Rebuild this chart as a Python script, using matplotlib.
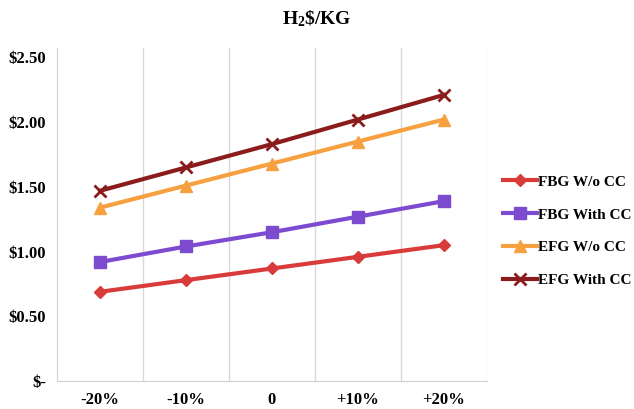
import matplotlib.pyplot as plt

categories = ['-20%', '-10%', '0', '+10%', '+20%']
fbg_wo_cc = [0.69, 0.78, 0.87, 0.96, 1.05]
fbg_with_cc = [0.92, 1.04, 1.15, 1.27, 1.39]
efg_wo_cc = [1.34, 1.51, 1.68, 1.85, 2.02]
efg_with_cc = [1.47, 1.65, 1.83, 2.02, 2.21]
yticks = [0, 0.5, 1.0, 1.5, 2.0, 2.5]
ytick_labels = ['$-', '$0.50', '$1.00', '$1.50', '$2.00', '$2.50']

plt.rcParams['font.family'] = ['Liberation Serif', 'DejaVu Serif']
plt.rcParams['font.weight'] = 'bold'
plt.rcParams['mathtext.fontset'] = 'custom'
plt.rcParams['mathtext.rm'] = 'Liberation Serif:bold'
plt.rcParams['mathtext.default'] = 'rm'

fig = plt.figure(figsize=(6.34, 4.09), dpi=100)
ax = fig.add_axes([0.09, 0.068, 0.678, 0.814])

x = list(range(len(categories)))
series = [
    ('FBG W/o CC', fbg_wo_cc, '#d93b3b', 'D', 6),
    ('FBG With CC', fbg_with_cc, '#7d4bd0', 's', 9),
    ('EFG W/o CC', efg_wo_cc, '#f7a040', '^', 9),
    ('EFG With CC', efg_with_cc, '#8b1c1c', 'x', 9),
]
for label, vals, color, marker, ms in series:
    ax.plot(x, vals, color=color, lw=3, marker=marker, ms=ms,
            mew=2 if marker == 'x' else 1, label=label)

ax.set_xlim(-0.5, len(categories) - 0.5)
ax.set_ylim(0, 2.57)
ax.set_xticks(x)
ax.set_xticklabels(categories, fontsize=12, fontweight='bold')
ax.set_yticks(yticks)
ax.set_yticklabels(ytick_labels, fontsize=12, fontweight='bold')
ax.tick_params(length=0, pad=8)
for b in [0.5, 1.5, 2.5, 3.5, 4.5]:
    ax.axvline(b, color='#d9d9d9', lw=1, zorder=0)

for side in ['top', 'right']:
    ax.spines[side].set_visible(False)
for side in ['left', 'bottom']:
    ax.spines[side].set_color('#d0d0d0')

fig.text(0.5, 0.955, 'H$_2$\\$/KG', fontsize=14, fontweight='bold',
         ha='center', va='center')

fig.legend(loc='center left', bbox_to_anchor=(0.772, 0.435), frameon=False,
           prop={'weight': 'bold', 'size': 11},
           handlelength=2.2, handletextpad=0.1, labelspacing=1.25)

fig.savefig('out.png', dpi=100)
